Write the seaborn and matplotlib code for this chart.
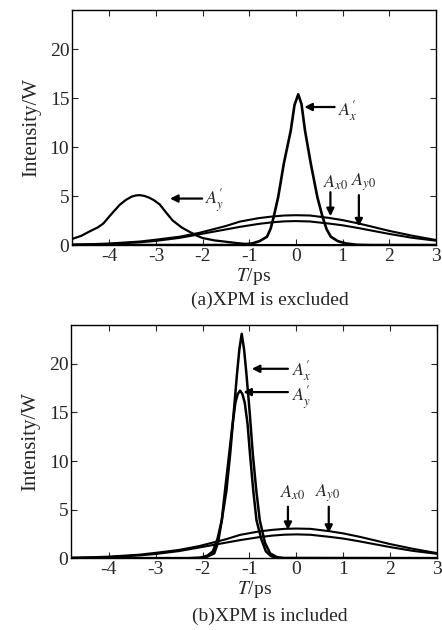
import matplotlib
matplotlib.use("Agg")
import matplotlib.pyplot as plt
import seaborn as sns

# input pulses (same in both panels)
broad_t = [-4.8, -4.4, -4.0, -3.35, -3.0, -2.5, -2.07, -1.5, -1.2, -0.8, -0.5,
           -0.25, 0.0, 0.3, 0.7, 1.0, 1.35, 1.7, 2.0, 2.5, 3.0]
a_x0 = [0.05, 0.09, 0.16, 0.36, 0.55, 0.85, 1.25, 1.95, 2.4, 2.75, 2.92,
        3.02, 3.05, 3.02, 2.78, 2.55, 2.2, 1.8, 1.45, 0.95, 0.52]
a_y0 = [0.03, 0.06, 0.11, 0.28, 0.43, 0.73, 1.1, 1.6, 1.86, 2.16, 2.33,
        2.42, 2.45, 2.41, 2.2, 2.02, 1.73, 1.41, 1.14, 0.74, 0.45]

# (a) XPM excluded
t_a_xp = [-4.8, -1.5, -1.2, -0.94, -0.78, -0.62, -0.54, -0.475, -0.38, -0.26, -0.11, -0.03,
          0.05, 0.12, 0.195, 0.32, 0.46, 0.57, 0.66, 0.75, 0.9, 1.07, 1.3, 1.6, 3.0]
i_a_xp = [0, 0, 0.03, 0.17, 0.4, 0.85, 1.7, 2.9, 4.9, 8.3, 11.7, 14.3,
          15.4, 14.4, 11.7, 8.3, 4.9, 2.9, 1.6, 0.85, 0.4, 0.17, 0.03, 0, 0]
t_a_yp = [-4.8, -4.6, -4.4, -4.25, -4.13, -3.95, -3.78, -3.65, -3.52, -3.43, -3.35, -3.25,
          -3.15, -3.05, -2.92, -2.78, -2.64, -2.45, -2.28, -2.12, -2.0, -1.75, -1.5,
          -1.25, -1.0, -0.8, 3.0]
i_a_yp = [0.62, 0.95, 1.45, 1.8, 2.2, 3.2, 4.1, 4.6, 4.95, 5.07, 5.1, 5.02,
          4.85, 4.6, 4.15, 3.3, 2.5, 1.8, 1.35, 0.95, 0.72, 0.48, 0.34,
          0.2, 0.08, 0, 0]

# (b) XPM included
t_b_xp = [-4.8, -2.3, -2.07, -1.92, -1.75, -1.67, -1.59, -1.49, -1.41, -1.335, -1.265, -1.215,
          -1.165, -1.115, -1.065, -0.995, -0.93, -0.855, -0.78, -0.67, -0.56, -0.42, -0.27, 3.0]
i_b_xp = [0, 0, 0.02, 0.12, 0.5, 1.6, 3.9, 7.0, 10.8, 15.0, 19.0, 21.5,
          23.1, 21.5, 19.0, 15.0, 10.8, 7.0, 3.9, 1.6, 0.5, 0.12, 0.02, 0]
t_b_yp = [-4.8, -2.3, -2.05, -1.9, -1.78, -1.68, -1.59, -1.52, -1.43, -1.36, -1.3, -1.25, -1.2,
          -1.15, -1.1, -1.04, -0.99, -0.92, -0.85, -0.75, -0.65, -0.55, -0.45, -0.3, 3.0]
i_b_yp = [0, 0, 0.05, 0.25, 0.7, 2.0, 3.9, 7.0, 10.8, 13.8, 16.0, 16.9, 17.25,
          16.9, 16.0, 13.8, 10.8, 7.0, 3.9, 2.0, 0.7, 0.25, 0.05, 0, 0]

x_ticks = [-4, -3, -2, -1, 0, 1, 2, 3]
y_ticks = [0, 5, 10, 15, 20]
captions = ["(a)XPM is excluded", "(b)XPM is included"]

sns.set_style("ticks")
plt.rcParams['font.family'] = ['Liberation Serif', 'DejaVu Serif']
plt.rcParams['mathtext.fontset'] = 'stix'
plt.rcParams['axes.unicode_minus'] = False

fig = plt.figure(figsize=(4.42, 6.30), dpi=100)
ax_a = fig.add_axes([0.163, 0.611, 0.823, 0.373])
ax_b = fig.add_axes([0.161, 0.114, 0.828, 0.370])


def style_axes(ax):
    ax.set_xlim(-4.8, 3.0)
    ax.set_ylim(0, 24)
    ax.set_xticks(x_ticks)
    ax.set_yticks(y_ticks)
    ax.tick_params(direction='in', top=True, right=True, length=4,
                   width=0.8, labelsize=14, pad=2)
    for s in ax.spines.values():
        s.set_linewidth(1.0)
        s.set_color('k')
    ax.set_xlabel("$T$/ps", fontsize=14, labelpad=1)
    ax.set_ylabel("Intensity/W", fontsize=15, labelpad=6)


def arrow(ax, tail, head):
    ax.annotate("", xy=head, xytext=tail,
                arrowprops=dict(arrowstyle='-|>', color='k', lw=1.6,
                                mutation_scale=11, shrinkA=0, shrinkB=0))


def label(ax, x, y, s):
    ax.text(x, y, s, fontsize=13, ha='left', va='center')


# panel (a)
sns.lineplot(x=broad_t, y=a_x0, ax=ax_a, color='k', lw=1.5)
sns.lineplot(x=broad_t, y=a_y0, ax=ax_a, color='k', lw=1.5)
sns.lineplot(x=t_a_yp, y=i_a_yp, ax=ax_a, color='k', lw=1.6)
sns.lineplot(x=t_a_xp, y=i_a_xp, ax=ax_a, color='k', lw=1.9)
style_axes(ax_a)

arrow(ax_a, (0.83, 14.1), (0.18, 14.1))
label(ax_a, 0.9, 13.7, r"$A^{\prime}_{x}$")
arrow(ax_a, (-2.01, 4.75), (-2.70, 4.75))
label(ax_a, -1.94, 4.6, r"$A^{\prime}_{y}$")
arrow(ax_a, (0.74, 5.4), (0.74, 2.95))
label(ax_a, 0.58, 6.4, r"$A_{x0}$")
arrow(ax_a, (1.35, 5.1), (1.35, 1.9))
label(ax_a, 1.19, 6.4, r"$A_{y0}$")

# panel (b)
sns.lineplot(x=broad_t, y=a_x0, ax=ax_b, color='k', lw=1.5)
sns.lineplot(x=broad_t, y=a_y0, ax=ax_b, color='k', lw=1.5)
sns.lineplot(x=t_b_yp, y=i_b_yp, ax=ax_b, color='k', lw=1.8)
sns.lineplot(x=t_b_xp, y=i_b_xp, ax=ax_b, color='k', lw=1.8)
style_axes(ax_b)

arrow(ax_b, (-0.18, 19.5), (-0.95, 19.5))
label(ax_b, -0.1, 19.3, r"$A^{\prime}_{x}$")
arrow(ax_b, (-0.18, 17.1), (-1.13, 17.1))
label(ax_b, -0.1, 16.6, r"$A^{\prime}_{y}$")
arrow(ax_b, (-0.18, 5.3), (-0.18, 2.9))
label(ax_b, -0.35, 6.7, r"$A_{x0}$")
arrow(ax_b, (0.69, 5.3), (0.69, 2.6))
label(ax_b, 0.39, 6.7, r"$A_{y0}$")

fig.text(0.61, 0.524, captions[0], fontsize=14, ha='center', va='center')
fig.text(0.61, 0.021, captions[1], fontsize=14, ha='center', va='center')

fig.savefig("out.png", dpi=100)
